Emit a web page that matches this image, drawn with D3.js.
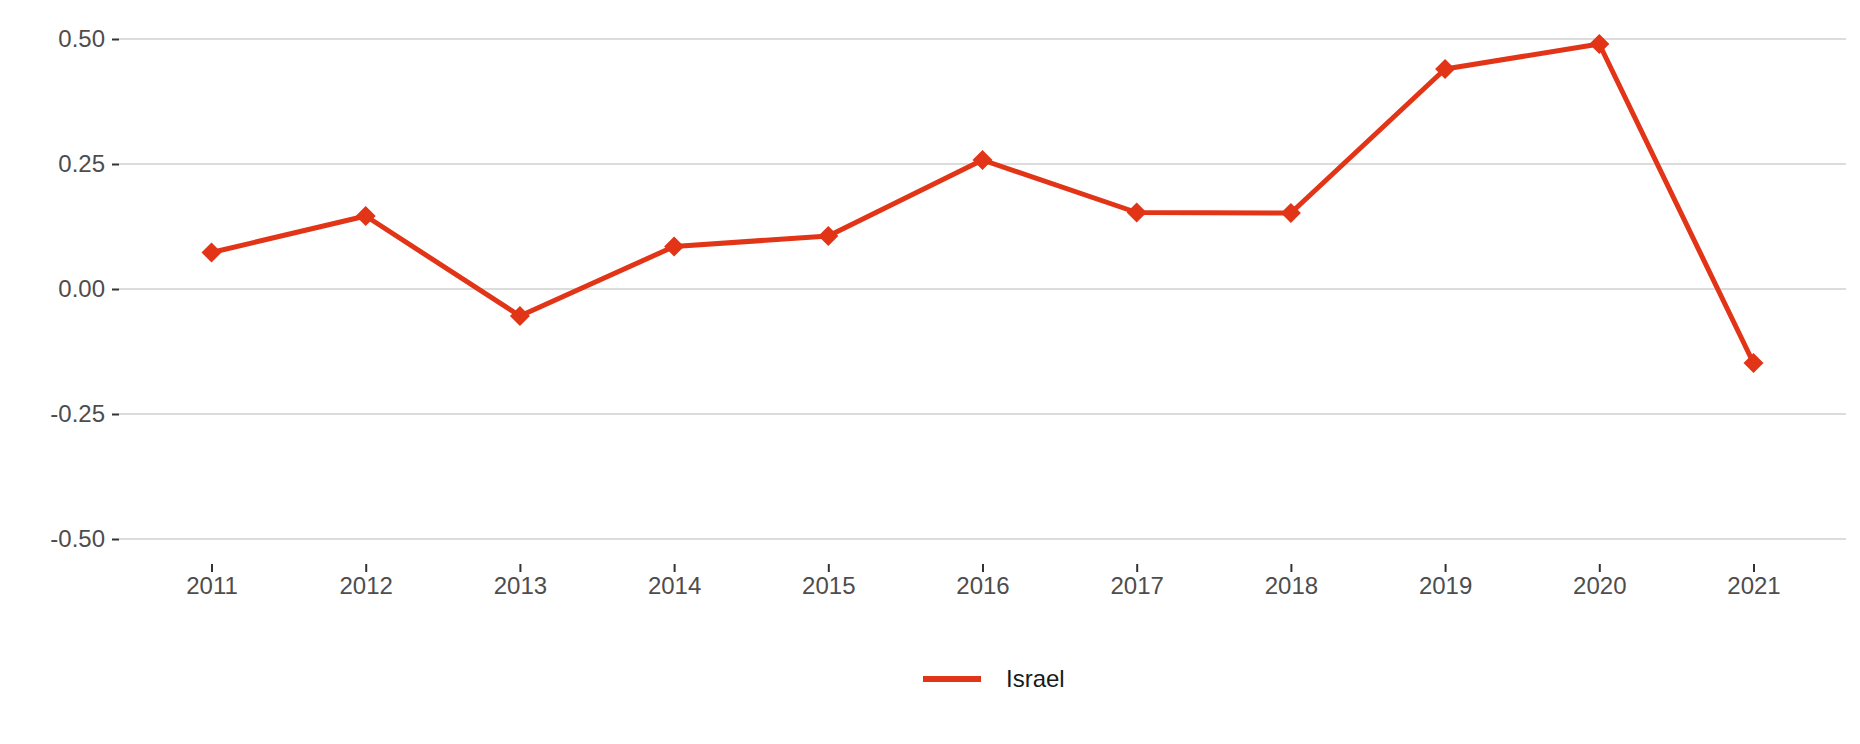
<!DOCTYPE html>
<html>
<head>
<meta charset="utf-8">
<script src="https://cdn.jsdelivr.net/npm/d3@7"></script>
<style>
  body { margin: 0; background: #fff; }
  text { font-family: "Liberation Sans", Arial, sans-serif; }
</style>
</head>
<body>
<div id="chart"></div>
<script>
// data
var years = ["2011", "2012", "2013", "2014", "2015", "2016", "2017", "2018", "2019", "2020", "2021"];
var israel = [0.073, 0.146, -0.054, 0.085, 0.106, 0.258, 0.153, 0.152, 0.440, 0.490, -0.148];
var yTicks = [-0.50, -0.25, 0.00, 0.25, 0.50];
var seriesName = "Israel";

var W = 1860, H = 744;
var margin = {top: 39, right: 14, bottom: 205, left: 119};
var red = "#e23417";

var svg = d3.select("#chart").append("svg")
    .attr("width", W)
    .attr("height", H);

var x = d3.scalePoint()
    .domain(years)
    .range([margin.left, W - margin.right])
    .padding(0.6);

var y = d3.scaleLinear()
    .domain([-0.5, 0.5])
    .range([H - margin.bottom, margin.top]);

// horizontal grid
svg.append("g")
    .selectAll("line").data(yTicks)
    .enter().append("line")
        .attr("x1", margin.left)
        .attr("x2", W - margin.right)
        .attr("y1", d => y(d))
        .attr("y2", d => y(d))
        .attr("stroke", "#dcdcdc")
        .attr("stroke-width", 2);

// y axis, plain hyphen for the minus sign
var fmt = d3.format(".2f");
var yAxis = d3.axisLeft(y)
    .tickValues(yTicks)
    .tickFormat(d => fmt(d).replace("\u2212", "-"))
    .tickSize(7)
    .tickPadding(7);

var gy = svg.append("g")
    .attr("transform", "translate(" + margin.left + ",0)")
    .call(yAxis);
gy.select(".domain").remove();
gy.selectAll(".tick line").attr("stroke", "#333").attr("stroke-width", 2);
gy.selectAll(".tick text")
    .attr("fill", "#4d4d4d")
    .style("font-size", "24px");

// x axis
var xAxis = d3.axisBottom(x)
    .tickSize(8)
    .tickPadding(5);

var gx = svg.append("g")
    .attr("transform", "translate(0," + (y(-0.5) + 25) + ")")
    .call(xAxis);
gx.select(".domain").remove();
gx.selectAll(".tick line").attr("stroke", "#333").attr("stroke-width", 2);
gx.selectAll(".tick text")
    .attr("fill", "#4d4d4d")
    .style("font-size", "24px");

// line
var line = d3.line()
    .x((d, i) => x(years[i]))
    .y(d => y(d));

svg.append("path")
    .datum(israel)
    .attr("fill", "none")
    .attr("stroke", red)
    .attr("stroke-width", 5)
    .attr("stroke-linejoin", "round")
    .attr("d", line);

// diamond markers
var diamond = d3.symbol().type(d3.symbolSquare).size(200);
svg.append("g")
    .selectAll("path").data(israel)
    .enter().append("path")
        .attr("d", diamond)
        .attr("transform", (d, i) => "translate(" + x(years[i]) + "," + y(d) + ") rotate(45)")
        .attr("fill", red);

// legend
var legend = svg.append("g")
    .attr("transform", "translate(923,679)");
legend.append("line")
    .attr("x1", 0)
    .attr("x2", 58)
    .attr("stroke", red)
    .attr("stroke-width", 6);
legend.append("text")
    .attr("x", 83)
    .attr("dy", "0.35em")
    .attr("fill", "#1a1a1a")
    .style("font-size", "24px")
    .text(seriesName);
</script>
</body>
</html>
